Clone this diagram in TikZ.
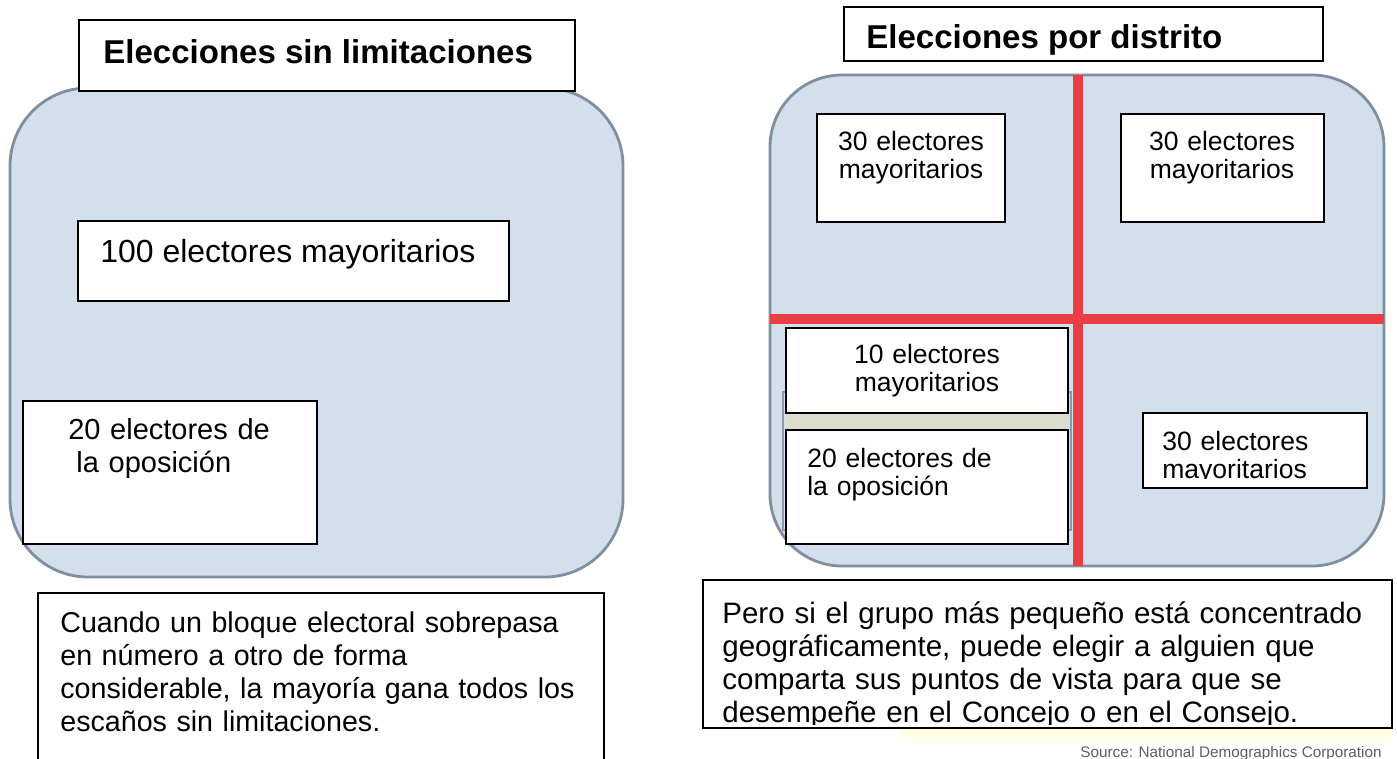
\documentclass[tikz,border=0pt]{standalone}
\usepackage{fontspec}
\setmainfont{Liberation Sans}

\definecolor{panelfill}{RGB}{211,223,234}
\definecolor{panelline}{RGB}{128,143,158}
\definecolor{distred}{RGB}{233,62,68}
\definecolor{stripbeige}{RGB}{221,221,205}
\definecolor{ghostline}{RGB}{140,152,165}
\definecolor{sourcegray}{RGB}{95,95,95}

\newcommand{\titlefont}{\fontsize{18.8}{21.6}\bfseries\selectfont}
\newcommand{\bigfont}{\fontsize{18.2}{21}\selectfont}
\newcommand{\midfont}{\fontsize{16.5}{18.8}\selectfont}
\newcommand{\smallfont}{\fontsize{15.1}{16.5}\selectfont}
\newcommand{\bodyfont}{\fontsize{16.3}{18.8}\selectfont}
\newcommand{\notefont}{\fontsize{16.8}{18.8}\selectfont}

\begin{document}
\begin{tikzpicture}[x=0.02cm, y=-0.02cm,
    panel/.style={draw=panelline, line width=1.6pt, fill=panelfill},
    whitebox/.style={draw=black, line width=1.1pt, fill=white},
    redline/.style={draw=distred, line width=5.7pt},
    txt/.style={inner sep=0pt, anchor=base west},
    ctxt/.style={inner sep=0pt, anchor=base, align=center}]
    \clip (0,0) rectangle (1397,758);
    \fill[white] (0,0) rectangle (1397,758);

    % left: elecciones sin limitaciones
    \draw[panel, rounded corners=1.56cm] (10,88) rectangle (623,577);
    \draw[whitebox] (79,20) rectangle (575,91);
    \node[txt, font=\titlefont] (titleleft) at (103,63) {Elecciones sin limitaciones};
    \draw[whitebox] (78,221) rectangle (509,301);
    \node[txt, font=\bigfont] (mayleft) at (100,262) {100 electores mayoritarios};
    \draw[whitebox] (23,401) rectangle (317,544);
    \node[txt, font=\midfont, text width=5.4cm, align=left] (opoleft) at (68,439)
        {20 electores de\\\hspace*{.28em}la oposición};
    \draw[whitebox] (38,593) rectangle (604,770);
    \node[txt, font=\bodyfont, text width=10.8cm, align=left] (noteleft) at (60,632)
        {Cuando un bloque electoral sobrepasa\\ en número a otro de forma\\
         considerable, la mayoría gana todos los\\ escaños sin limitaciones.};

    % right: elecciones por distrito
    \draw[whitebox] (844,7) rectangle (1323,61);
    \node[txt, font=\titlefont] (titleright) at (866,48) {Elecciones por distrito};
    \draw[panel, rounded corners=1.44cm] (770,75) rectangle (1384,566);
    \draw[redline] (1078,75) -- (1078,566);
    \draw[redline] (770,319) -- (1384,319);
    \draw[ghostline, line width=0.8pt, fill=panelfill] (783,392) rectangle (1071,530);
    \fill[stripbeige] (786,413) rectangle (1068,430);

    \draw[whitebox] (817,114) rectangle (1005,222);
    \node[ctxt, font=\smallfont, text width=3.7cm] (nwmay) at (911,150) {30 electores\\ mayoritarios};
    \draw[whitebox] (1121,114) rectangle (1324,222);
    \node[ctxt, font=\smallfont, text width=4cm] (nemay) at (1222,150) {30 electores\\ mayoritarios};
    \draw[whitebox] (786,328) rectangle (1068,413);
    \node[ctxt, font=\smallfont, text width=5.6cm] (swmay) at (927,363) {10 electores\\ mayoritarios};
    \draw[whitebox] (786,430) rectangle (1068,544);
    \node[txt, font=\smallfont, text width=5.2cm, align=left] (swopo) at (807,467)
        {20 electores de\\ la oposición};
    \draw[whitebox] (1143,413) rectangle (1367,488);
    \begin{scope}
        \clip (1143,413) rectangle (1367,478);
        \node[txt, font=\smallfont, text width=4.2cm, align=left] (semay) at (1162,450)
            {30 electores\\ mayoritarios};
    \end{scope}

    % nota de la derecha
    \shade[top color=yellow!15, bottom color=white] (900,729) rectangle (1392,746);
    \draw[whitebox] (703,580) rectangle (1392,728);
    \begin{scope}
        \clip (703,580) rectangle (1392,724);
        \node[txt, font=\notefont, text width=13.6cm, align=left] (noteright) at (722,623)
            {Pero si el grupo más pequeño está concentrado\\
             geográficamente, puede elegir a alguien que\\
             comparta sus puntos de vista para que se\\
             desempeñe en el Concejo o en el Consejo.};
    \end{scope}
    \node[txt, font=\fontsize{8.7}{10.5}\selectfont, text=sourcegray] (source) at (1080,757)
        {Source: National Demographics Corporation};
\end{tikzpicture}
\end{document}
